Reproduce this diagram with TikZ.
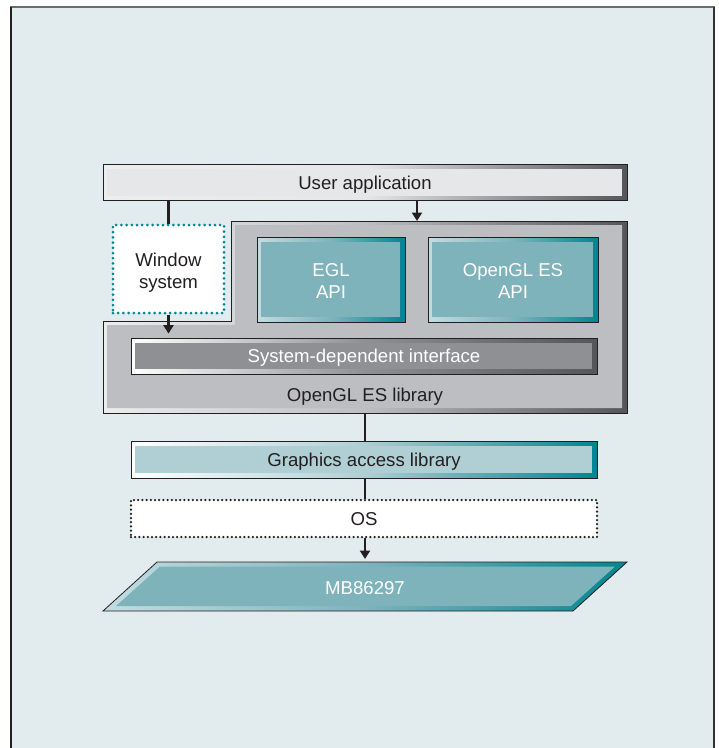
\documentclass[tikz,border=0pt]{standalone}
\usepackage{fontspec}
\setmainfont{Liberation Sans}
\usetikzlibrary{arrows.meta}
\definecolor{panel}{HTML}{E2EBEE}
\definecolor{tealf}{HTML}{7FB3BC}
\definecolor{teald}{HTML}{00868F}
\definecolor{teall}{HTML}{C2DDE1}
\definecolor{grayf}{HTML}{BDBEC1}
\definecolor{grayd}{HTML}{55565A}
\definecolor{grayl}{HTML}{EDEDEE}
\definecolor{sysf}{HTML}{8F9094}
\definecolor{gacf}{HTML}{AFCFD4}
\definecolor{userf}{HTML}{E6E7E8}
\definecolor{edge}{HTML}{231F20}
\tikzset{
  lbl/.style={font=\fontsize{18.6}{22}\selectfont, align=center, text=edge,
    text height=13.4pt, text depth=0pt},
  two/.style={text height=38.4pt, text depth=0pt},
  blk/.style={draw=edge, line width=0.8pt, inner sep=0pt, lbl},
  bevel/.style n args={4}{left color=#1, right color=#3, middle color=#2,
    path picture={\fill[#4] ([shift={(4pt,-4.5pt)}]path picture bounding box.north west)
      rectangle ([shift={(-5pt,5pt)}]path picture bounding box.south east);}},
  conn/.style={line width=2.2pt, draw=edge},
  arr/.style={conn, -{Triangle[length=8.5pt,width=10pt]}},
}
\begin{document}
\begin{tikzpicture}[x=1pt,y=-1pt]
\useasboundingbox (0,0) rectangle (719,748);
% panel
\fill[panel] (11,7) rectangle (714,748);
\draw[gray!85!black, line width=2pt] (10,7) -- (715,7);
\draw[edge, line width=1.5pt] (11,7) -- (11,748);
\draw[gray!40!black, line width=2pt] (714,7) -- (714,748);

% OpenGL ES library (L shape)
\path[draw=edge, line width=0.8pt, left color=grayl, right color=grayd, middle color=grayf]
  (231,221) -- (627,221) -- (627,413) -- (103,413) -- (103,321) -- (231,321) -- cycle;
\fill[grayf] (235,225) -- (622,225) -- (622,408) -- (107,408) -- (107,325) -- (235,325) -- cycle;
\node[lbl] (lib) at (365,395) {OpenGL ES library};
\coordinate (libtop) at (417,221);
\coordinate (libbot) at (365,413);

% user application
\node[blk, bevel={grayl}{userf}{grayd}{userf}, minimum width=524pt, minimum height=36pt] (user) at (365,182.5) {User application};

% window system
\node[draw=teald, line width=3pt, dash pattern=on 0pt off 5.2pt, line cap=round, fill=white,
  minimum width=111pt, minimum height=88pt, inner sep=0pt, lbl, two] (win) at (168.5,269) {Window\\system};

% APIs
\node[blk, two, bevel={teall}{tealf}{teald}{tealf}, minimum width=148pt, minimum height=85pt, text=white] (egl) at (331,279.5) {EGL\\API};
\node[blk, two, bevel={teall}{tealf}{teald}{tealf}, minimum width=170pt, minimum height=85pt, text=white] (gles) at (513,279.5) {OpenGL ES\\API};

% system-dependent interface
\node[blk, bevel={white}{sysf}{grayd}{sysf}, minimum width=466pt, minimum height=36pt, text=white] (sys) at (364,356) {System-dependent interface};

% graphics access library
\node[blk, bevel={white}{gacf}{teald}{gacf}, minimum width=466pt, minimum height=37pt] (gac) at (364,459.5) {Graphics access library};

% OS
\node[draw=edge, line width=2.5pt, dash pattern=on 0pt off 4.2pt, line cap=round, fill=white,
  minimum width=466pt, minimum height=37pt, inner sep=0pt, lbl] (os) at (364,518.5) {OS};

% MB86297
\path[draw=edge, line width=0.8pt, left color=teall, right color=teald, middle color=tealf]
  (103,611) -- (157,562) -- (627,562) -- (573,611) -- cycle;
\fill[tealf] (116,606) -- (160,566.5) -- (615,566.5) -- (571,606) -- cycle;
\node[lbl, text=white] (mb) at (365,588) {MB86297};
\coordinate (mbtop) at (365,562);

% connectors
\draw[conn] (user.south -| win.north) -- (win.north);
\draw[arr] (user.south -| libtop) -- (libtop);
\draw[arr, shorten >=4pt] (win.south) -- (win.south |- sys.north);
\draw[conn] (libbot) -- (libbot |- gac.north);
\draw[conn] (gac.south -| libbot) -- (os.north -| libbot);
\draw[arr, shorten >=3pt] (os.south -| libbot) -- (mbtop);
\end{tikzpicture}
\end{document}
